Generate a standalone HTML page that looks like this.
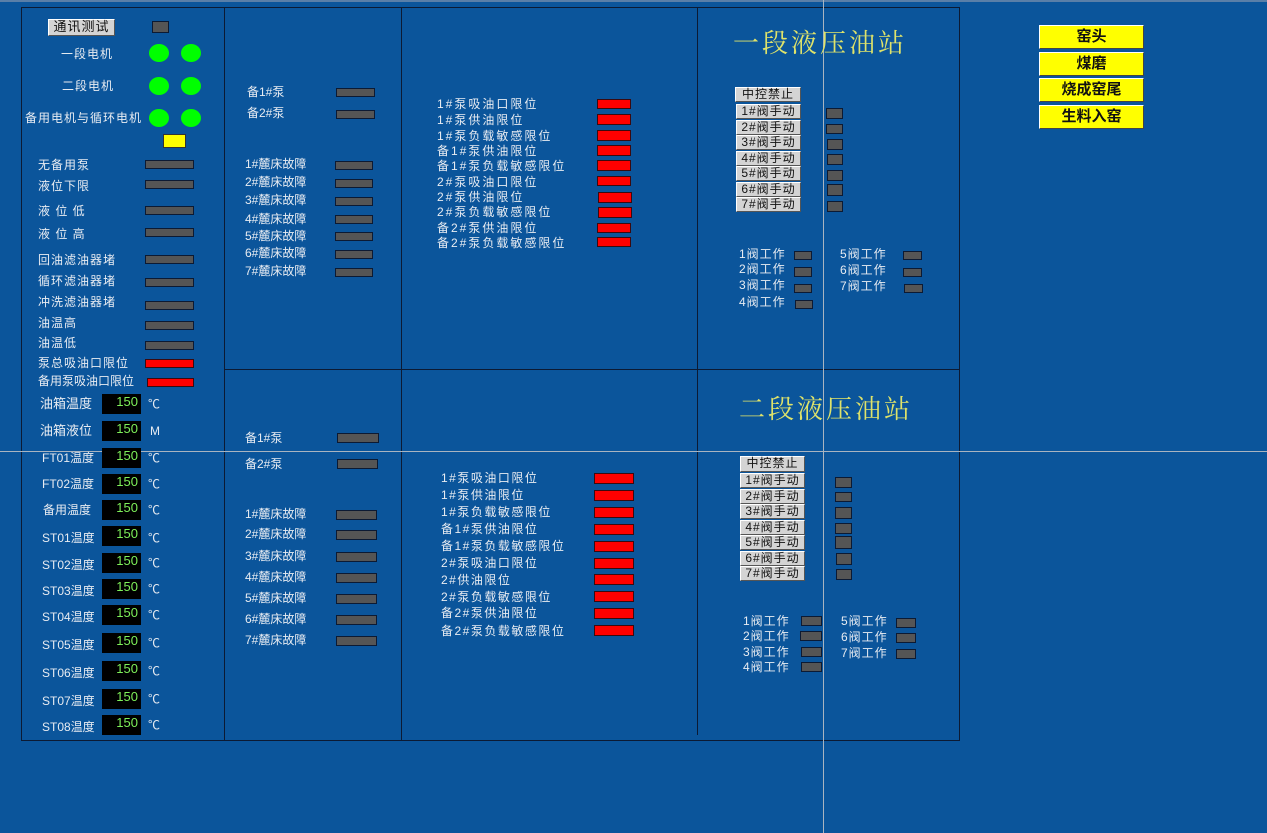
<!DOCTYPE html>
<html><head><meta charset="utf-8">
<style>
*{margin:0;padding:0;box-sizing:border-box}
body{width:1267px;height:833px;background:#0b559b;position:relative;overflow:hidden;font-family:"Liberation Sans","Noto Sans CJK SC",sans-serif}
div{position:absolute}
.t{color:#e8ecf2;font-size:12px;line-height:14px;white-space:nowrap}
.w{letter-spacing:1px}
.x{letter-spacing:2px}
.z{letter-spacing:1.5px}
.g{background:#555;border:1px solid #0c1a33}
.r{background:#f00;border:1px solid #3a0a10}
.c{background:#0f0;border-radius:50%;width:20px;height:18px}
.b{background:#d4d4d4;border:1px solid;border-color:#fff #555 #555 #fff;color:#111;font-size:12px;line-height:13px;text-align:center;letter-spacing:1px}
.d{background:#000;width:39px;height:20px;color:#7ef05a;font-size:13px;text-align:right;padding-right:3px;line-height:16px}
.u{color:#e8ecf2;font-size:12px;line-height:14px}
.l{background:#0c1a33}
.y{background:#ffff00;border:1px solid;border-color:#fff #444 #444 #fff;font-weight:bold;font-size:15px;text-align:center;line-height:22px;color:#111;width:105px;height:24px;left:1039px}
.h{color:#dfe36a;font-size:26px;font-family:"Liberation Serif","Noto Serif CJK SC",serif;letter-spacing:3px}
</style></head><body>
<div style="left:0;top:0;width:1267px;height:2px;background:#5a7fa8"></div>
<div class="l" style="left:21px;top:7px;width:939px;height:1px"></div>
<div class="l" style="left:21px;top:740px;width:939px;height:1px"></div>
<div class="l" style="left:21px;top:7px;width:1px;height:734px"></div>
<div class="l" style="left:959px;top:7px;width:1px;height:734px"></div>
<div class="l" style="left:224px;top:7px;width:1px;height:734px"></div>
<div class="l" style="left:401px;top:7px;width:1px;height:734px"></div>
<div class="l" style="left:697px;top:7px;width:1px;height:728px"></div>
<div class="l" style="left:224px;top:369px;width:736px;height:1px"></div>
<div style="left:0;top:451px;width:1267px;height:1px;background:#a9b4c0"></div>
<div style="left:823px;top:0;width:1px;height:833px;background:#a9b4c0"></div>

<div class="b" style="left:48px;top:19px;width:67px;height:17px;font-size:13px">通讯测试</div>
<div class="g" style="left:152px;top:21px;width:17px;height:12px"></div>
<div class="t w" style="left:61px;top:47px">一段电机</div>
<div class="c" style="left:149px;top:44px"></div><div class="c" style="left:181px;top:44px"></div>
<div class="t w" style="left:62px;top:79px">二段电机</div>
<div class="c" style="left:149px;top:77px"></div><div class="c" style="left:181px;top:77px"></div>
<div class="t w" style="left:25px;top:111px">备用电机与循环电机</div>
<div class="c" style="left:149px;top:109px"></div><div class="c" style="left:181px;top:109px"></div>
<div style="left:163px;top:134px;width:23px;height:14px;background:#ff0;border:1px solid #333"></div>

<div class="t w" style="left:38px;top:158px">无备用泵</div><div class="g" style="left:145px;top:160px;width:49px;height:9px"></div>
<div class="t w" style="left:38px;top:179px">液位下限</div><div class="g" style="left:145px;top:180px;width:49px;height:9px"></div>
<div class="t w" style="left:38px;top:204px">液 位 低</div><div class="g" style="left:145px;top:206px;width:49px;height:9px"></div>
<div class="t w" style="left:38px;top:227px">液 位 高</div><div class="g" style="left:145px;top:228px;width:49px;height:9px"></div>
<div class="t w" style="left:38px;top:253px">回油滤油器堵</div><div class="g" style="left:145px;top:255px;width:49px;height:9px"></div>
<div class="t w" style="left:38px;top:274px">循环滤油器堵</div><div class="g" style="left:145px;top:278px;width:49px;height:9px"></div>
<div class="t w" style="left:38px;top:295px">冲洗滤油器堵</div><div class="g" style="left:145px;top:301px;width:49px;height:9px"></div>
<div class="t w" style="left:38px;top:316px">油温高</div><div class="g" style="left:145px;top:321px;width:49px;height:9px"></div>
<div class="t w" style="left:38px;top:336px">油温低</div><div class="g" style="left:145px;top:341px;width:49px;height:9px"></div>
<div class="t w" style="left:38px;top:356px">泵总吸油口限位</div><div class="r" style="left:145px;top:359px;width:49px;height:9px"></div>
<div class="t" style="left:38px;top:374px">备用泵吸油口限位</div><div class="r" style="left:147px;top:378px;width:47px;height:9px"></div>

<div class="t" style="left:40px;top:397px;font-size:13px">油箱温度</div><div class="d" style="left:102px;top:394px">150</div><div class="u" style="left:148px;top:397px">℃</div>
<div class="t" style="left:40px;top:424px;font-size:13px">油箱液位</div><div class="d" style="left:102px;top:421px">150</div><div class="u" style="left:150px;top:424px">M</div>
<div class="t" style="left:42px;top:451px">FT01温度</div><div class="d" style="left:102px;top:448px">150</div><div class="u" style="left:148px;top:451px">℃</div>
<div class="t" style="left:42px;top:477px">FT02温度</div><div class="d" style="left:102px;top:474px">150</div><div class="u" style="left:148px;top:477px">℃</div>
<div class="t" style="left:43px;top:503px">备用温度</div><div class="d" style="left:102px;top:500px">150</div><div class="u" style="left:148px;top:503px">℃</div>
<div class="t" style="left:42px;top:531px">ST01温度</div><div class="d" style="left:102px;top:526px">150</div><div class="u" style="left:148px;top:531px">℃</div>
<div class="t" style="left:42px;top:558px">ST02温度</div><div class="d" style="left:102px;top:553px">150</div><div class="u" style="left:148px;top:556px">℃</div>
<div class="t" style="left:42px;top:584px">ST03温度</div><div class="d" style="left:102px;top:579px">150</div><div class="u" style="left:148px;top:582px">℃</div>
<div class="t" style="left:42px;top:610px">ST04温度</div><div class="d" style="left:102px;top:605px">150</div><div class="u" style="left:148px;top:608px">℃</div>
<div class="t" style="left:42px;top:638px">ST05温度</div><div class="d" style="left:102px;top:633px">150</div><div class="u" style="left:148px;top:636px">℃</div>
<div class="t" style="left:42px;top:666px">ST06温度</div><div class="d" style="left:102px;top:661px">150</div><div class="u" style="left:148px;top:664px">℃</div>
<div class="t" style="left:42px;top:694px">ST07温度</div><div class="d" style="left:102px;top:689px">150</div><div class="u" style="left:148px;top:692px">℃</div>
<div class="t" style="left:42px;top:720px">ST08温度</div><div class="d" style="left:102px;top:715px">150</div><div class="u" style="left:148px;top:718px">℃</div>

<div class="t" style="left:247px;top:85px">备1#泵</div><div class="g" style="left:336px;top:88px;width:39px;height:9px"></div>
<div class="t" style="left:247px;top:106px">备2#泵</div><div class="g" style="left:336px;top:110px;width:39px;height:9px"></div>
<div class="t" style="left:245px;top:157px">1#麓床故障</div><div class="g" style="left:335px;top:161px;width:38px;height:9px"></div>
<div class="t" style="left:245px;top:175px">2#麓床故障</div><div class="g" style="left:335px;top:179px;width:38px;height:9px"></div>
<div class="t" style="left:245px;top:193px">3#麓床故障</div><div class="g" style="left:335px;top:197px;width:38px;height:9px"></div>
<div class="t" style="left:245px;top:212px">4#麓床故障</div><div class="g" style="left:335px;top:215px;width:38px;height:9px"></div>
<div class="t" style="left:245px;top:229px">5#麓床故障</div><div class="g" style="left:335px;top:232px;width:38px;height:9px"></div>
<div class="t" style="left:245px;top:246px">6#麓床故障</div><div class="g" style="left:335px;top:250px;width:38px;height:9px"></div>
<div class="t" style="left:245px;top:264px">7#麓床故障</div><div class="g" style="left:335px;top:268px;width:38px;height:9px"></div>
<div class="t" style="left:245px;top:431px">备1#泵</div><div class="g" style="left:337px;top:433px;width:42px;height:10px"></div>
<div class="t" style="left:245px;top:457px">备2#泵</div><div class="g" style="left:337px;top:459px;width:41px;height:10px"></div>
<div class="t" style="left:245px;top:507px">1#麓床故障</div><div class="g" style="left:336px;top:510px;width:41px;height:10px"></div>
<div class="t" style="left:245px;top:527px">2#麓床故障</div><div class="g" style="left:336px;top:530px;width:41px;height:10px"></div>
<div class="t" style="left:245px;top:549px">3#麓床故障</div><div class="g" style="left:336px;top:552px;width:41px;height:10px"></div>
<div class="t" style="left:245px;top:570px">4#麓床故障</div><div class="g" style="left:336px;top:573px;width:41px;height:10px"></div>
<div class="t" style="left:245px;top:591px">5#麓床故障</div><div class="g" style="left:336px;top:594px;width:41px;height:10px"></div>
<div class="t" style="left:245px;top:612px">6#麓床故障</div><div class="g" style="left:336px;top:615px;width:41px;height:10px"></div>
<div class="t" style="left:245px;top:633px">7#麓床故障</div><div class="g" style="left:336px;top:636px;width:41px;height:10px"></div>

<div class="t x" style="left:437px;top:97px">1#泵吸油口限位</div><div class="r" style="left:597px;top:99px;width:34px;height:10px"></div>
<div class="t x" style="left:437px;top:113px">1#泵供油限位</div><div class="r" style="left:597px;top:114px;width:34px;height:11px"></div>
<div class="t x" style="left:437px;top:129px">1#泵负载敏感限位</div><div class="r" style="left:597px;top:130px;width:34px;height:11px"></div>
<div class="t x" style="left:437px;top:144px">备1#泵供油限位</div><div class="r" style="left:597px;top:145px;width:34px;height:11px"></div>
<div class="t x" style="left:437px;top:159px">备1#泵负载敏感限位</div><div class="r" style="left:597px;top:160px;width:34px;height:11px"></div>
<div class="t x" style="left:437px;top:175px">2#泵吸油口限位</div><div class="r" style="left:597px;top:176px;width:34px;height:10px"></div>
<div class="t x" style="left:437px;top:190px">2#泵供油限位</div><div class="r" style="left:598px;top:192px;width:34px;height:11px"></div>
<div class="t x" style="left:437px;top:205px">2#泵负载敏感限位</div><div class="r" style="left:598px;top:207px;width:34px;height:11px"></div>
<div class="t x" style="left:437px;top:221px">备2#泵供油限位</div><div class="r" style="left:597px;top:223px;width:34px;height:10px"></div>
<div class="t x" style="left:437px;top:236px">备2#泵负载敏感限位</div><div class="r" style="left:597px;top:237px;width:34px;height:10px"></div>
<div class="t z" style="left:441px;top:471px">1#泵吸油口限位</div><div class="r" style="left:594px;top:473px;width:40px;height:11px"></div>
<div class="t z" style="left:441px;top:488px">1#泵供油限位</div><div class="r" style="left:594px;top:490px;width:40px;height:11px"></div>
<div class="t z" style="left:441px;top:505px">1#泵负载敏感限位</div><div class="r" style="left:594px;top:507px;width:40px;height:11px"></div>
<div class="t z" style="left:441px;top:522px">备1#泵供油限位</div><div class="r" style="left:594px;top:524px;width:40px;height:11px"></div>
<div class="t z" style="left:441px;top:539px">备1#泵负载敏感限位</div><div class="r" style="left:594px;top:541px;width:40px;height:11px"></div>
<div class="t z" style="left:441px;top:556px">2#泵吸油口限位</div><div class="r" style="left:594px;top:558px;width:40px;height:11px"></div>
<div class="t z" style="left:441px;top:573px">2#供油限位</div><div class="r" style="left:594px;top:574px;width:40px;height:11px"></div>
<div class="t z" style="left:441px;top:590px">2#泵负载敏感限位</div><div class="r" style="left:594px;top:591px;width:40px;height:11px"></div>
<div class="t z" style="left:441px;top:606px">备2#泵供油限位</div><div class="r" style="left:594px;top:608px;width:40px;height:11px"></div>
<div class="t z" style="left:441px;top:624px">备2#泵负载敏感限位</div><div class="r" style="left:594px;top:625px;width:40px;height:11px"></div>

<div class="h" style="left:733px;top:23px">一段液压油站</div>
<div class="b" style="left:735px;top:87px;width:66px;height:15px">中控禁止</div>
<div class="b" style="left:736px;top:104px;width:65px;height:15px">1#阀手动</div>
<div class="b" style="left:736px;top:120px;width:65px;height:15px">2#阀手动</div>
<div class="b" style="left:736px;top:135px;width:65px;height:15px">3#阀手动</div>
<div class="b" style="left:736px;top:151px;width:65px;height:15px">4#阀手动</div>
<div class="b" style="left:736px;top:166px;width:65px;height:15px">5#阀手动</div>
<div class="b" style="left:736px;top:182px;width:65px;height:15px">6#阀手动</div>
<div class="b" style="left:736px;top:197px;width:65px;height:15px">7#阀手动</div>
<div class="g" style="left:826px;top:108px;width:17px;height:11px"></div>
<div class="g" style="left:826px;top:124px;width:17px;height:10px"></div>
<div class="g" style="left:827px;top:139px;width:16px;height:11px"></div>
<div class="g" style="left:827px;top:154px;width:16px;height:11px"></div>
<div class="g" style="left:827px;top:170px;width:16px;height:11px"></div>
<div class="g" style="left:827px;top:184px;width:16px;height:12px"></div>
<div class="g" style="left:827px;top:201px;width:16px;height:11px"></div>
<div class="t w" style="left:739px;top:247px">1阀工作</div><div class="g" style="left:794px;top:251px;width:18px;height:9px"></div>
<div class="t w" style="left:739px;top:262px">2阀工作</div><div class="g" style="left:794px;top:267px;width:18px;height:10px"></div>
<div class="t w" style="left:739px;top:278px">3阀工作</div><div class="g" style="left:794px;top:284px;width:18px;height:9px"></div>
<div class="t w" style="left:739px;top:295px">4阀工作</div><div class="g" style="left:795px;top:300px;width:18px;height:9px"></div>
<div class="t w" style="left:840px;top:247px">5阀工作</div><div class="g" style="left:903px;top:251px;width:19px;height:9px"></div>
<div class="t w" style="left:840px;top:263px">6阀工作</div><div class="g" style="left:903px;top:268px;width:19px;height:9px"></div>
<div class="t w" style="left:840px;top:279px">7阀工作</div><div class="g" style="left:904px;top:284px;width:19px;height:9px"></div>

<div class="h" style="left:739px;top:389px">二段液压油站</div>
<div class="b" style="left:740px;top:456px;width:65px;height:16px">中控禁止</div>
<div class="b" style="left:740px;top:473px;width:65px;height:15px">1#阀手动</div>
<div class="b" style="left:740px;top:489px;width:65px;height:15px">2#阀手动</div>
<div class="b" style="left:740px;top:504px;width:65px;height:15px">3#阀手动</div>
<div class="b" style="left:740px;top:520px;width:65px;height:15px">4#阀手动</div>
<div class="b" style="left:740px;top:535px;width:65px;height:15px">5#阀手动</div>
<div class="b" style="left:740px;top:551px;width:65px;height:15px">6#阀手动</div>
<div class="b" style="left:740px;top:566px;width:65px;height:15px">7#阀手动</div>
<div class="g" style="left:835px;top:477px;width:17px;height:11px"></div>
<div class="g" style="left:835px;top:492px;width:17px;height:10px"></div>
<div class="g" style="left:835px;top:507px;width:17px;height:12px"></div>
<div class="g" style="left:835px;top:523px;width:17px;height:11px"></div>
<div class="g" style="left:835px;top:536px;width:17px;height:13px"></div>
<div class="g" style="left:836px;top:553px;width:16px;height:12px"></div>
<div class="g" style="left:836px;top:569px;width:16px;height:11px"></div>
<div class="t w" style="left:743px;top:614px">1阀工作</div><div class="g" style="left:801px;top:616px;width:21px;height:10px"></div>
<div class="t w" style="left:743px;top:629px">2阀工作</div><div class="g" style="left:800px;top:631px;width:22px;height:10px"></div>
<div class="t w" style="left:743px;top:645px">3阀工作</div><div class="g" style="left:801px;top:647px;width:21px;height:10px"></div>
<div class="t w" style="left:743px;top:660px">4阀工作</div><div class="g" style="left:801px;top:662px;width:21px;height:10px"></div>
<div class="t w" style="left:841px;top:614px">5阀工作</div><div class="g" style="left:896px;top:618px;width:20px;height:10px"></div>
<div class="t w" style="left:841px;top:630px">6阀工作</div><div class="g" style="left:896px;top:633px;width:20px;height:10px"></div>
<div class="t w" style="left:841px;top:646px">7阀工作</div><div class="g" style="left:896px;top:649px;width:20px;height:10px"></div>

<div class="y" style="top:25px">窑头</div>
<div class="y" style="top:52px">煤磨</div>
<div class="y" style="top:78px">烧成窑尾</div>
<div class="y" style="top:105px">生料入窑</div>
</body></html>
